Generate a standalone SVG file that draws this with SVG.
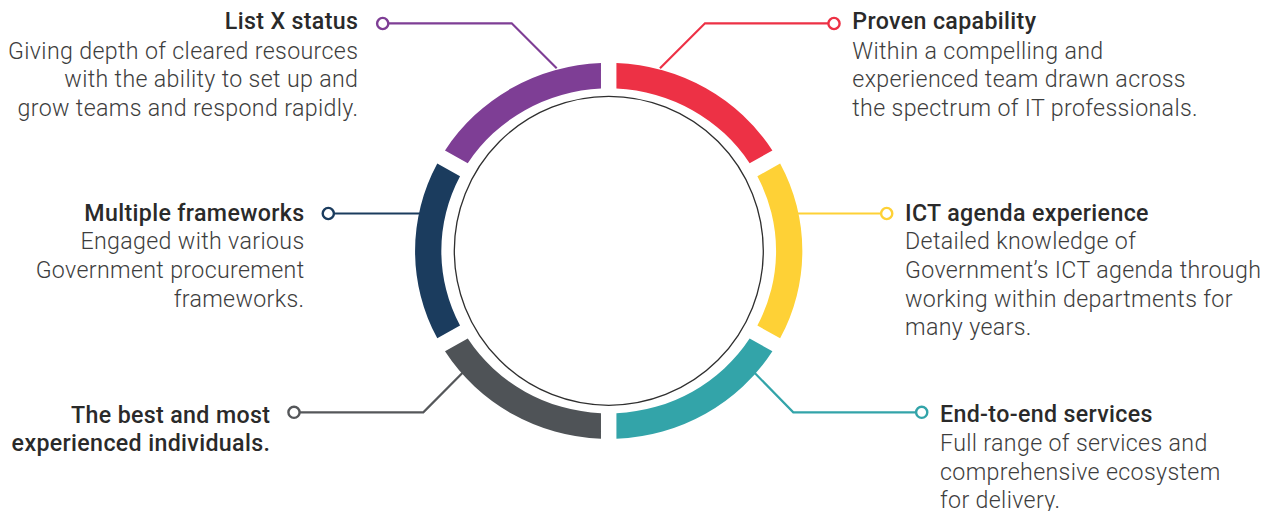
<svg xmlns="http://www.w3.org/2000/svg" width="1278" height="511" viewBox="0 0 1278 511">
<style>
.t{font-family:Roboto,"Liberation Sans",sans-serif;font-size:23.2px;letter-spacing:0.35px;font-weight:500;fill:#2a2a2a}
.b{font-family:Roboto,"Liberation Sans",sans-serif;font-size:23.2px;letter-spacing:0.35px;font-weight:300;fill:#3d3d3d}
.r{text-anchor:end}
.c{fill:none;stroke-width:2.2}
.dot{fill:#fff;stroke-width:2.4}
</style>
<defs>
<path id="seg" d="M7.5,-187.85 A188,188 0 0 1 158.93,-100.42 L136.83,-87.66 A162.5,162.5 0 0 0 7.5,-162.33 Z"/>
</defs>
<rect width="1278" height="511" fill="#fff"/>
<g id="connectors">
<polyline class="c" stroke="#7E3E95" points="389,23.3 511.7,23.3 556.7,68.3"/>
<circle class="dot" stroke="#7E3E95" cx="382.7" cy="23.5" r="5.6"/>
<polyline class="c" stroke="#ED3145" points="660,68.3 705,23.3 828,23.3"/>
<circle class="dot" stroke="#ED3145" cx="834" cy="23.5" r="5.6"/>
<polyline class="c" stroke="#1B3C5E" points="334,213.5 420,213.5"/>
<circle class="dot" stroke="#1B3C5E" cx="328.3" cy="213.5" r="5.6"/>
<polyline class="c" stroke="#FED136" points="798,213.5 881,213.5"/>
<circle class="dot" stroke="#FED136" cx="886.7" cy="213.5" r="5.6"/>
<polyline class="c" stroke="#55575A" points="300,412.3 423.3,412.3 468.3,367"/>
<circle class="dot" stroke="#55575A" cx="294" cy="412.3" r="5.6"/>
<polyline class="c" stroke="#33A4A9" points="755,373.3 793.3,412.3 916,412.3"/>
<circle class="dot" stroke="#33A4A9" cx="921.7" cy="412.3" r="5.6"/>
</g>
<g id="ring" transform="translate(608.7,250.9) scale(1.03,1)">
<use href="#seg" fill="#ED3145"/>
<use href="#seg" fill="#FED136" transform="rotate(60)"/>
<use href="#seg" fill="#33A4A9" transform="rotate(120)"/>
<use href="#seg" fill="#4F5357" transform="rotate(180)"/>
<use href="#seg" fill="#1B3C5E" transform="rotate(240)"/>
<use href="#seg" fill="#7E3E95" transform="rotate(300)"/>
</g>
<circle id="inner" cx="608.8" cy="250.8" r="154.5" fill="#fff" stroke="#2f2f2f" stroke-width="1.3"/>
<g id="node-listx">
<text class="t r" x="358.3" y="29.3">List X status</text>
<text class="b r" x="358.3" y="59">Giving depth of cleared resources</text>
<text class="b r" x="358.3" y="87.3">with the ability to set up and</text>
<text class="b r" x="358.3" y="115.6">grow teams and respond rapidly.</text>
</g>
<g id="node-proven">
<text class="t" x="852.3" y="29.3">Proven capability</text>
<text class="b" x="852.3" y="59">Within a compelling and</text>
<text class="b" x="852.3" y="87.3">experienced team drawn across</text>
<text class="b" x="852.3" y="115.6">the spectrum of IT professionals.</text>
</g>
<g id="node-frameworks">
<text class="t r" x="304.5" y="220.5">Multiple frameworks</text>
<text class="b r" x="304.5" y="249.3">Engaged with various</text>
<text class="b r" x="304.5" y="278">Government procurement</text>
<text class="b r" x="304.5" y="306.5">frameworks.</text>
</g>
<g id="node-ict">
<text class="t" x="905" y="220.5">ICT agenda experience</text>
<text class="b" x="905" y="249.3">Detailed knowledge of</text>
<text class="b" x="905" y="278">Government’s ICT agenda through</text>
<text class="b" x="905" y="306.5">working within departments for</text>
<text class="b" x="905" y="335">many years.</text>
</g>
<g id="node-best">
<text class="t r" x="270.3" y="422.8">The best and most</text>
<text class="t r" x="270.3" y="451.3">experienced individuals.</text>
</g>
<g id="node-e2e">
<text class="t" x="940" y="422.3">End-to-end services</text>
<text class="b" x="940" y="451">Full range of services and</text>
<text class="b" x="940" y="479.5">comprehensive ecosystem</text>
<text class="b" x="940" y="508">for delivery.</text>
</g>
</svg>
